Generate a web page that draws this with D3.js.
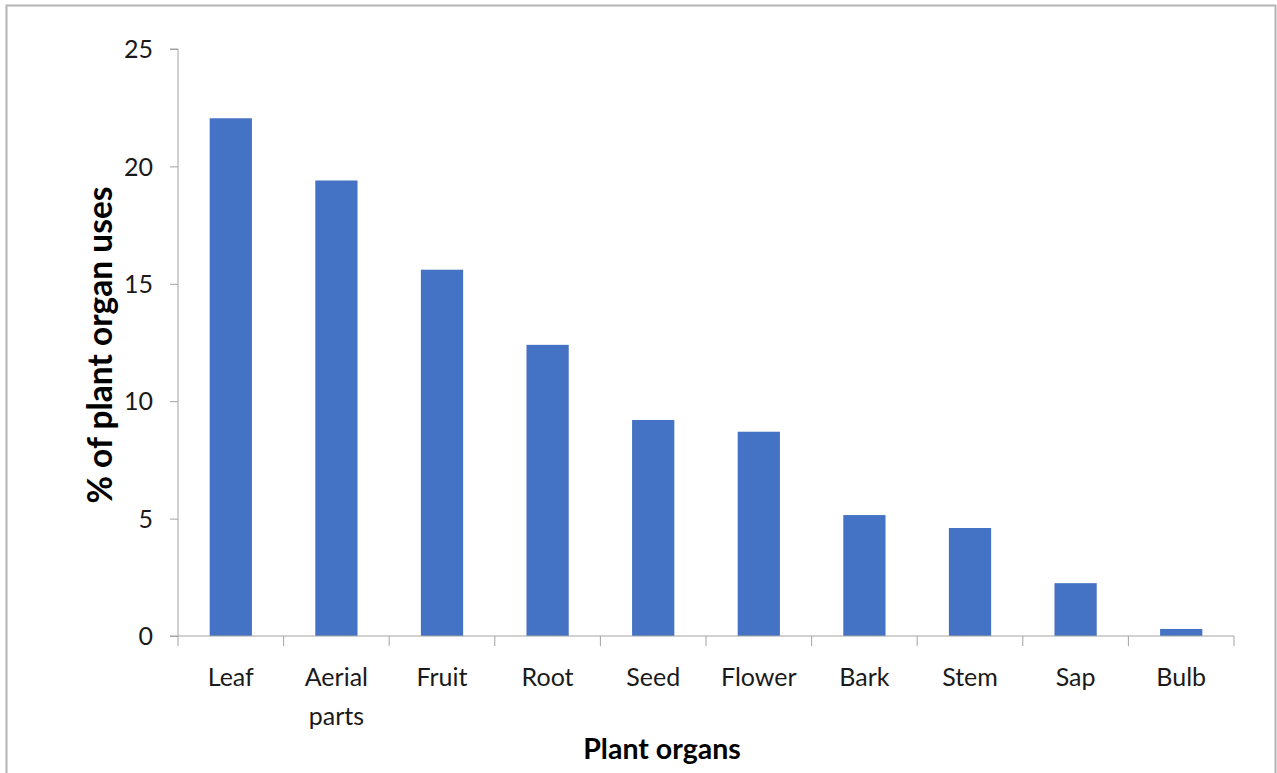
<!DOCTYPE html>
<html>
<head>
<meta charset="utf-8">
<script src="https://cdn.jsdelivr.net/npm/d3@7"></script>
<style>
  html, body { margin: 0; padding: 0; background: #fff; }
  svg { display: block; }
  .tick text { font-family: Lato, "Open Sans", sans-serif; }
</style>
</head>
<body>
<svg id="chart" width="1277" height="773"></svg>
<script>
// Share of uses by plant organ (%)
const organs = ["Leaf", "Aerial parts", "Fruit", "Root", "Seed", "Flower", "Bark", "Stem", "Sap", "Bulb"];
const usePercent = [22.05, 19.4, 15.6, 12.4, 9.2, 8.7, 5.15, 4.6, 2.25, 0.3];
const yTicks = [0, 5, 10, 15, 20, 25];

const svg = d3.select("#chart");
const W = 1277, H = 773;
const plot = { left: 178, right: 1234, top: 49, bottom: 636 };
const axisColor = "#a3a3a3";
const barColor = "#4472c4";
const fontFamily = "Lato, 'Open Sans', sans-serif";

// outer frame
svg.append("path")
  .attr("d", `M6.5,${H} V5.5 H1275.5 V${H}`)
  .attr("fill", "none")
  .attr("stroke", "#b4b4b4")
  .attr("stroke-width", 2);

const x = d3.scaleBand()
  .domain(organs)
  .range([plot.left, plot.right])
  .paddingInner(0.6)
  .paddingOuter(0.3);

const y = d3.scaleLinear()
  .domain([0, 25])
  .range([plot.bottom, plot.top]);

// bars
svg.append("g")
  .selectAll("rect")
  .data(organs.map((o, i) => ({ organ: o, value: usePercent[i] })))
  .join("rect")
  .attr("x", d => x(d.organ))
  .attr("y", d => y(d.value))
  .attr("width", x.bandwidth())
  .attr("height", d => y(0) - y(d.value))
  .attr("fill", barColor);

// y axis
const yAxis = svg.append("g")
  .attr("transform", `translate(${plot.left},0)`)
  .call(d3.axisLeft(y).tickValues(yTicks).tickSize(8).tickPadding(17).tickFormat(d3.format("d")));
yAxis.select(".domain").attr("stroke", axisColor).attr("d", `M-8,${y(25)}H0V${y(0)}`);
yAxis.selectAll(".tick line").attr("stroke", axisColor);
yAxis.selectAll(".tick text")
  .attr("font-size", 25)
  .attr("fill", "#1a1a1a")
  .attr("dy", "0.35em");

// x axis: baseline with tick marks on category boundaries
const xg = svg.append("g");
xg.append("line")
  .attr("x1", plot.left - 8).attr("x2", plot.right)
  .attr("y1", plot.bottom).attr("y2", plot.bottom)
  .attr("stroke", axisColor);
const boundaries = organs.map((o, i) => plot.left + i * (plot.right - plot.left) / organs.length)
  .concat([plot.right]);
xg.selectAll("line.xt")
  .data(boundaries)
  .join("line")
  .attr("class", "xt")
  .attr("x1", d => d).attr("x2", d => d)
  .attr("y1", plot.bottom).attr("y2", plot.bottom + 10)
  .attr("stroke", axisColor);

// category labels (wrapped to two lines where needed)
const labels = svg.append("g")
  .attr("font-family", fontFamily)
  .attr("font-size", 25)
  .attr("fill", "#1a1a1a")
  .attr("text-anchor", "middle");
organs.forEach(o => {
  const cx = x(o) + x.bandwidth() / 2;
  const words = o.split(" ");
  const t = labels.append("text").attr("x", cx).attr("y", 686);
  words.forEach((w, j) => {
    t.append("tspan").attr("x", cx).attr("y", 686 + j * 39).text(w);
  });
});

// axis titles
svg.append("text")
  .attr("x", 662).attr("y", 759)
  .attr("text-anchor", "middle")
  .attr("font-family", fontFamily)
  .attr("font-weight", "bold")
  .attr("font-size", 28.5)
  .attr("fill", "#000")
  .text("Plant organs");

svg.append("text")
  .attr("transform", "translate(112,345) rotate(-90)")
  .attr("text-anchor", "middle")
  .attr("font-family", fontFamily)
  .attr("font-weight", "bold")
  .attr("font-size", 33.5)
  .attr("fill", "#000")
  .text("% of plant organ uses");
</script>
</body>
</html>
